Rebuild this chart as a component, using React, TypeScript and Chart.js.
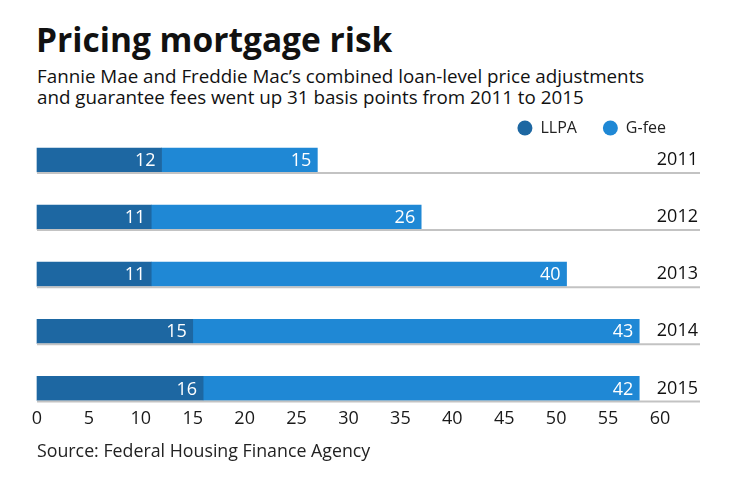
import React, { useEffect, useRef } from "react";
import { Chart, registerables } from "chart.js";

Chart.register(...registerables);

const years = ["2011", "2012", "2013", "2014", "2015"];
const llpa = [12, 11, 11, 15, 16];
const gfee = [15, 26, 40, 43, 42];
const xTicksMax = 60;
const xTickStep = 5;

const FONT = "'Open Sans', Lato, sans-serif";

const legendPlacePlugin = {
  id: "legendPlace",
  beforeLayout(chart: any) {
    const lg = chart.legend;
    if (lg && !lg._patched) {
      const f = lg.fit;
      lg.fit = function () {
        f.call(this);
        this.height = 54;
      };
      lg._patched = true;
    }
  },
  afterLayout(chart: any) {
    const lg = chart.legend;
    if (!lg) return;
    lg.top -= 12;
    lg.bottom -= 12;
    lg.right -= 6;
  },
};

const baselinePlugin = {
  id: "baselines",
  afterDatasetsDraw(chart: any) {
    const ctx = chart.ctx;
    const meta = chart.getDatasetMeta(chart.data.datasets.length - 1);
    const yScale = chart.scales.y;
    ctx.save();
    ctx.strokeStyle = "#c3c3c3";
    ctx.lineWidth = 2;
    meta.data.forEach((bar: any) => {
      const y = bar.y + bar.height / 2 + 1;
      ctx.beginPath();
      ctx.moveTo(chart.chartArea.left, y);
      ctx.lineTo(yScale.right + 2, y);
      ctx.stroke();
    });
    ctx.restore();
  },
};

const valueLabelPlugin = {
  id: "valueLabels",
  afterDatasetsDraw(chart: any) {
    const ctx = chart.ctx;
    ctx.save();
    ctx.fillStyle = "#ffffff";
    ctx.font = `18px ${FONT}`;
    ctx.textAlign = "right";
    ctx.textBaseline = "middle";
    chart.data.datasets.forEach((ds: any, di: number) => {
      const meta = chart.getDatasetMeta(di);
      meta.data.forEach((bar: any, i: number) => {
        ctx.fillText(String(ds.data[i]), bar.x - 6, bar.y + 1);
      });
    });
    ctx.restore();
  },
};

function BarChart() {
  const ref = useRef<HTMLCanvasElement | null>(null);
  useEffect(() => {
    if (!ref.current) return;
    const chart = new Chart(ref.current, {
      type: "bar",
      data: {
        labels: years,
        datasets: [
          {
            label: "LLPA",
            data: llpa,
            backgroundColor: "#1d67a2",
            barThickness: 24,
          },
          {
            label: "G-fee",
            data: gfee,
            backgroundColor: "#1f88d5",
            barThickness: 24,
          },
        ],
      },
      options: {
        indexAxis: "y",
        responsive: false,
        animation: false,
        clip: false as any,
        layout: { padding: { left: 37, right: 42, top: 0, bottom: 0 } },
        plugins: {
          legend: {
            position: "top",
            align: "end",
            labels: {
              usePointStyle: true,
              pointStyle: "circle",
              pointStyleWidth: 15,
              boxWidth: 15,
              boxHeight: 10.6,
              padding: 26,
              color: "#222",
              font: { family: FONT, size: 16 },
            },
          },
          tooltip: { enabled: false },
        },
        scales: {
          x: {
            stacked: true,
            min: 0,
            max: xTicksMax,
            grid: { display: false, drawTicks: false },
            border: { display: false },
            ticks: {
              stepSize: xTickStep,
              color: "#1a1a1a",
              padding: 20,
              font: { family: FONT, size: 18 },
            },
          },
          y: {
            stacked: true,
            position: "right",
            offset: false,
            grid: { display: false, drawTicks: false },
            border: { display: false },
            afterFit: (s: any) => {
              s.width = 38;
              s._computeLabelArea = () => undefined;
            },
            ticks: {
              crossAlign: "far",
              color: "#111",
              padding: 0,
              font: { family: FONT, size: 18 },
            },
          },
        },
      },
      plugins: [legendPlacePlugin, baselinePlugin, valueLabelPlugin],
    });
    return () => chart.destroy();
  }, []);
  return <canvas ref={ref} width={740} height={344} style={{ display: "block" }} />;
}

export default function App() {
  return (
    <div
      style={{
        position: "absolute",
        left: 0,
        top: 0,
        width: 740,
        height: 482,
        background: "#fff",
        fontFamily: FONT,
        color: "#111",
        overflow: "hidden",
      }}
    >
      <div style={{ position: "absolute", left: 36, top: 19, fontSize: 33.5, fontWeight: 700, lineHeight: "40px", whiteSpace: "nowrap" }}>
        Pricing mortgage risk
      </div>
      <div style={{ position: "absolute", left: 37, top: 66, fontSize: 18.8, lineHeight: "21px", whiteSpace: "nowrap" }}>
        Fannie Mae and Freddie Mac’s combined loan-level price adjustments
        <br />
        and guarantee fees went up 31 basis points from 2011 to 2015
      </div>
      <div style={{ position: "absolute", left: 0, top: 106 }}>
        <BarChart />
      </div>
      <div style={{ position: "absolute", left: 37, top: 438, fontSize: 17.8, lineHeight: "24px", color: "#222", whiteSpace: "nowrap" }}>
        Source: Federal Housing Finance Agency
      </div>
    </div>
  );
}
